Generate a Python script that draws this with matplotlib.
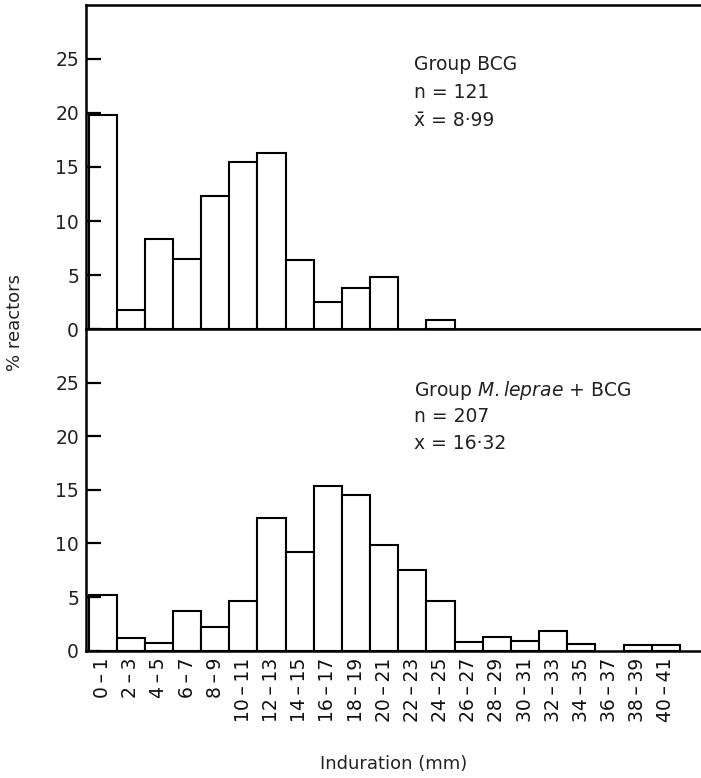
import numpy as np
import matplotlib
matplotlib.use("Agg")
import matplotlib.pyplot as plt

# bins of induration (mm)
bins = ["0\u2009\u2013\u20091", "2\u2009\u2013\u20093", "4\u2009\u2013\u20095",
        "6\u2009\u2013\u20097", "8\u2009\u2013\u20099", "10\u2009\u2013\u200911",
        "12\u2009\u2013\u200913", "14\u2009\u2013\u200915", "16\u2009\u2013\u200917",
        "18\u2009\u2013\u200919", "20\u2009\u2013\u200921", "22\u2009\u2013\u200923",
        "24\u2009\u2013\u200925", "26\u2009\u2013\u200927", "28\u2009\u2013\u200929",
        "30\u2009\u2013\u200931", "32\u2009\u2013\u200933", "34\u2009\u2013\u200935",
        "36\u2009\u2013\u200937", "38\u2009\u2013\u200939", "40\u2009\u2013\u200941"]

# % reactors, group BCG
bcg = [19.8, 1.8, 8.3, 6.5, 12.3, 15.5, 16.3, 6.4, 2.5, 3.8, 4.8, 0.0,
       0.8, 0, 0, 0, 0, 0, 0, 0, 0]

# % reactors, group M.leprae + BCG
lep_bcg = [5.2, 1.2, 0.7, 3.7, 2.2, 4.6, 12.4, 9.2, 15.4, 14.5, 9.9, 7.5,
           4.6, 0.8, 1.3, 0.9, 1.8, 0.6, 0.0, 0.5, 0.5]

yticks = [0, 5, 10, 15, 20, 25]

plt.rcParams['font.family'] = ['DejaVu Sans']
plt.rcParams['mathtext.fontset'] = 'dejavusans'

fig = plt.figure(figsize=(7.01, 7.78), dpi=100)
ax1 = fig.add_axes([0.1227, 0.5771, 0.8773, 0.4165])
ax2 = fig.add_axes([0.1227, 0.1636, 0.8773, 0.4135])

x = np.arange(len(bins))

for ax, vals in ((ax1, bcg), (ax2, lep_bcg)):
    vals = np.array(vals)
    keep = vals > 0
    ax.bar(x[keep], vals[keep], width=1, align='edge', color='white',
           edgecolor='black', linewidth=1.5)
    ax.set_xlim(-0.09, 21.75)
    ax.set_ylim(0, 30)
    ax.set_yticks(yticks)
    ax.set_yticklabels([str(v) for v in yticks], fontsize=13.5, color='#222222')
    ax.tick_params(axis='y', direction='in', length=11, width=1.6, pad=5)
    ax.spines['right'].set_visible(False)
    for s in ('left', 'bottom', 'top'):
        ax.spines[s].set_linewidth(1.8)

ax1.tick_params(axis='x', bottom=False, labelbottom=False)
ax2.set_xticks(x + 0.5)
ax2.set_xticklabels(bins, rotation=90, fontsize=13.5, color='#111111')
ax2.tick_params(axis='x', length=0, pad=5)
ax2.set_xlabel("Induration (mm)", fontsize=13, color='#222222', labelpad=24)

fig.text(0.022, 0.585, "% reactors", rotation=90, fontsize=13,
         color='#222222', ha='center', va='center')

txt = dict(fontsize=13.5, color='#222222', ha='left', va='baseline')
ax1.text(11.55, 24.0, "Group BCG", **txt)
ax1.text(11.55, 21.4, "n = 121", **txt)
ax1.text(11.55, 18.8, "x\u0304 = 8\u00b799", **txt)

ax2.text(11.55, 23.8, "Group $\\it{M.leprae}$ + BCG", **txt)
ax2.text(11.55, 21.3, "n = 207", **txt)
ax2.text(11.55, 18.8, "x = 16\u00b732", **txt)

fig.savefig("out.png", dpi=100)
